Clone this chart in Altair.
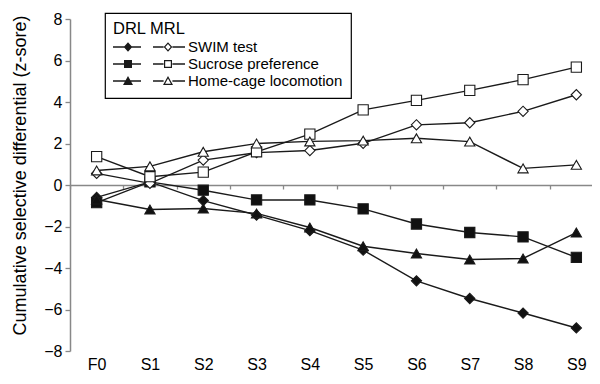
import altair as alt
import pandas as pd

stages = ["F0", "S1", "S2", "S3", "S4", "S5", "S6", "S7", "S8", "S9"]
traits = ["SWIM test", "Sucrose preference", "Home-cage locomotion"]
lines = ["DRL", "MRL"]

drl_swim = [-0.6, 0.15, -0.75, -1.45, -2.2, -3.14, -4.62, -5.47, -6.17, -6.89]
drl_sucrose = [-0.85, 0.15, -0.25, -0.72, -0.72, -1.15, -1.88, -2.29, -2.5, -3.49]
drl_home = [-0.7, -1.18, -1.13, -1.37, -2.05, -2.95, -3.3, -3.59, -3.54, -2.29]
mrl_swim = [0.56, 0.08, 1.2, 1.56, 1.66, 2.01, 2.9, 3.0, 3.55, 4.35]
mrl_sucrose = [1.37, 0.4, 0.62, 1.6, 2.45, 3.62, 4.08, 4.56, 5.08, 5.68]
mrl_home = [0.7, 0.9, 1.6, 2.0, 2.1, 2.14, 2.25, 2.09, 0.8, 0.97]

series = [
    ("DRL", "SWIM test", drl_swim),
    ("DRL", "Sucrose preference", drl_sucrose),
    ("DRL", "Home-cage locomotion", drl_home),
    ("MRL", "SWIM test", mrl_swim),
    ("MRL", "Sucrose preference", mrl_sucrose),
    ("MRL", "Home-cage locomotion", mrl_home),
]
rows = []
for ln, tr, vals in series:
    for st, v in zip(stages, vals):
        rows.append({"stage": st, "value": v, "trait": tr, "line": ln, "series": ln + " " + tr})
df = pd.DataFrame(rows)

W, H = 522, 332
FONT = "Liberation Sans"


# legend symbol "—◆—  —◇—" built as one filled custom path in the [-1, 1] box
def fmt(v):
    return f"{v / 36:.4f}"


def poly(pts):
    return "M" + " L".join(f"{fmt(x)},{fmt(y)}" for x, y in pts) + " Z"


def marker(kind, cx):
    if kind == "diamond":
        return [(cx, -4.8), (cx + 4.3, 0), (cx, 4.8), (cx - 4.3, 0)], (cx, 0), 0.62
    if kind == "square":
        return [(cx - 4, -4), (cx + 4, -4), (cx + 4, 4), (cx - 4, 4)], (cx, 0), 0.7
    return [(cx, -5), (cx + 5, 4), (cx - 5, 4)], (cx, 1), 0.58


def rect(x0, x1, t=0.65):
    return poly([(x0, -t), (x1, -t), (x1, t), (x0, t)])


def legend_path(kind):
    fx, ox, r = -21, 19, 4.4
    parts = [rect(-36, -8), rect(4, ox - r), rect(ox + r, 36)]
    pts, _, _ = marker(kind, fx)
    parts.append(poly(pts))
    pts, (cx, cy), k = marker(kind, ox)
    inner = [(cx + (x - cx) * k, cy + (y - cy) * k) for x, y in pts][::-1]
    parts.append(poly(pts))
    parts.append(poly(inner))
    return " ".join(parts)


legend_shapes = [legend_path(k) for k in ["diamond", "square", "triangle"]]

xscale = alt.Scale(type="band", domain=stages, range=[0, 533], paddingInner=0, paddingOuter=0)

base = alt.Chart(df)

line_layer = base.mark_line(color="#1a1a1a", strokeWidth=1.4).encode(
    x=alt.X("stage:N", scale=xscale, sort=stages,
            axis=alt.Axis(title=None, orient="bottom", offset=-H / 2,
                          domain=True, domainColor="#888888", domainWidth=1.5,
                          ticks=True, tickBand="extent", tickSize=4,
                          tickColor="#888888", tickWidth=1.3,
                          labelFontSize=16, labelFont=FONT, labelColor="black",
                          labelPadding=H / 2 + 1, labelAngle=0)),
    y=alt.Y("value:Q", scale=alt.Scale(domain=[-8, 8], nice=False, zero=False),
            axis=alt.Axis(title="Cumulative selective differential (z-sore)",
                          values=list(range(-8, 9, 2)), grid=False,
                          labelFontSize=16, labelFont=FONT, labelColor="black",
                          tickSize=5, tickColor="#888888", domainColor="#888888",
                          domainWidth=1.5, tickWidth=1.3, labelPadding=3,
                          titleFontSize=18, titleFont=FONT, titleFontWeight="normal",
                          titleColor="black", titleX=-45, titleY=156,
                          titleBaseline="alphabetic", titleAngle=270)),
    detail="series:N",
)

point_layer = base.mark_point(filled=True, opacity=1, size=105, stroke="#1a1a1a",
                              strokeWidth=1.1).encode(
    x=alt.X("stage:N", scale=xscale, sort=stages),
    y=alt.Y("value:Q"),
    shape=alt.Shape("trait:N", scale=alt.Scale(domain=traits,
                                               range=["diamond", "square", "triangle-up"]),
                    legend=None),
    fill=alt.Fill("line:N", scale=alt.Scale(domain=lines, range=["#111111", "white"]),
                  legend=None),
    detail="series:N",
)

legend_layer = base.transform_filter("false").mark_point(
    filled=True, opacity=1, color="#1a1a1a", size=5184
).encode(
    x=alt.X("stage:N", scale=xscale, sort=stages),
    shape=alt.Shape("trait:N",
                    scale=alt.Scale(domain=traits, range=legend_shapes),
                    legend=alt.Legend(
                        title="DRL MRL", orient="none", legendX=35, legendY=-6,
                        titleFontSize=16.5, titleFont=FONT, titleFontWeight="normal",
                        titleColor="black", titlePadding=1,
                        labelFontSize=15, labelFont=FONT, labelColor="black",
                        labelOffset=3, symbolSize=5184, symbolFillColor="#1a1a1a",
                        symbolOpacity=1, symbolStrokeWidth=0,
                        clipHeight=17, rowPadding=0,
                        padding=8, strokeColor="black", fillColor="white",
                        cornerRadius=0)),
)

chart = alt.layer(line_layer, point_layer, legend_layer).resolve_scale(
    shape="independent"
).properties(
    width=W, height=H,
    autosize="none",
    padding={"left": 62, "top": 11, "right": 0, "bottom": 28},
).configure_view(stroke=None).configure_legend(
    strokeWidth=1.2
)

chart.save("out.html", embed_options={"renderer": "svg", "actions": False})
